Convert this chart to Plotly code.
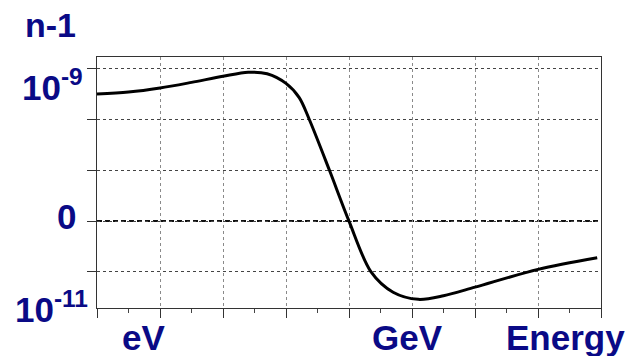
import plotly.graph_objects as go

# Energy axis in grid units (one division per step), refractive index term in grid units
energy_pos = [0.0, 0.5, 1.0, 1.5, 2.0, 2.4, 2.7, 3.0, 3.21, 3.37, 3.69, 4.0, 4.35, 4.7, 5.1,
              5.5, 6.0, 7.0, 7.94]
n_minus_1 = [2.50, 2.54, 2.62, 2.73, 2.85, 2.93, 2.90, 2.71, 2.43, 2.00, 1.00, 0.00, -1.00,
             -1.40, -1.54, -1.47, -1.30, -0.95, -0.72]

# Axis text
y_tick_vals = [-1, 0, 1, 2, 3]
y_label_text = ["10<sup>-9</sup>", "0", "10<sup>-11</sup>"]
y_label_y = [2.68, 0.085, -1.70]
y_label_x = [-0.0238, -0.0377, -0.0139]
x_label_text = ["eV", "GeV", "Energy"]
x_label_x = [0.745, 4.93, 7.44]

NAVY = "#0a0a86"
FONT = "Liberation Sans, Arial, sans-serif"

fig = go.Figure()
fig.add_trace(go.Scatter(
    x=energy_pos, y=n_minus_1, mode="lines",
    line=dict(color="#000000", width=3, shape="spline", smoothing=0.9),
    hoverinfo="skip", showlegend=False,
))

# dashed zero reference across the plot (white underlay hides the dotted grid there)
fig.add_shape(type="line", xref="paper", x0=0.002, x1=0.998, yref="y", y0=0, y1=0,
              line=dict(color="white", width=3), layer="below")
fig.add_shape(type="line", xref="paper", x0=0, x1=1, yref="y", y0=0, y1=0,
              line=dict(color="#111111", width=2, dash="5px,3px"), layer="below")

label_font = dict(family=FONT, size=35, color=NAVY, weight="bold")
annotations = []
for t, x, y in zip(y_label_text, y_label_x, y_label_y):
    annotations.append(dict(text=t, x=x, y=y, xref="paper", yref="y",
                            xanchor="right", yanchor="middle", showarrow=False,
                            font=label_font))
for t, x in zip(x_label_text, x_label_x):
    annotations.append(dict(text=t, x=x, y=-0.119, xref="x", yref="paper",
                            xanchor="center", yanchor="middle", showarrow=False,
                            font=label_font))
annotations.append(dict(text="n-1", x=-0.092, y=1.127, xref="paper", yref="paper",
                        xanchor="center", yanchor="middle", showarrow=False,
                        font=dict(family=FONT, size=34, color=NAVY, weight="bold")))

fig.update_layout(
    width=633, height=356,
    margin=dict(l=97, r=32, t=57, b=48),
    paper_bgcolor="white", plot_bgcolor="white",
    font=dict(family=FONT, color=NAVY),
    annotations=annotations,
    xaxis=dict(
        range=[0, 8], dtick=1, tick0=0, showticklabels=False,
        ticks="outside", ticklen=9, tickcolor="#333", tickwidth=1,
        showgrid=True, gridcolor="#8a8a8a", griddash="dot", gridwidth=1,
        showline=True, linecolor="#333", linewidth=1, mirror=True,
        zeroline=False, layer="below traces",
        minor=dict(dtick=0.5, ticks="outside", ticklen=4, tickcolor="#444", showgrid=False),
    ),
    yaxis=dict(
        range=[-1.71, 3.23], tickvals=y_tick_vals, showticklabels=False,
        ticks="outside", ticklen=9, tickcolor="#333", tickwidth=1,
        showgrid=True, gridcolor="#444", griddash="dot", gridwidth=1,
        showline=True, linecolor="#333", linewidth=1, mirror=True,
        zeroline=False, layer="below traces",
    ),
)

fig.write_html("out.html")
